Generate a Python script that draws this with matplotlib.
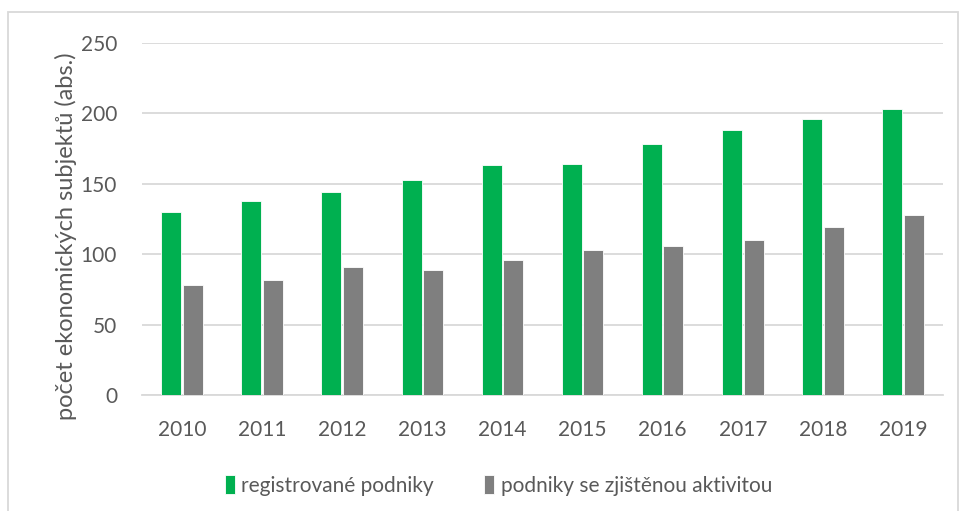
import matplotlib.pyplot as plt
import matplotlib.patches as mpatches
import numpy as np

plt.rcParams["font.family"] = ["Lato", "DejaVu Sans"]

years = ["2010", "2011", "2012", "2013", "2014", "2015", "2016", "2017", "2018", "2019"]
registrovane = [130, 138, 144, 153, 163, 164, 178, 188, 196, 203]
aktivni = [78, 82, 91, 89, 96, 103, 106, 110, 119, 128]

green = "#00B050"
grey = "#7F7F7F"
text_c = "#595959"
grid_c = "#D9D9D9"

fig = plt.figure(figsize=(9.6, 5.11), dpi=100)
ax = fig.add_axes([142 / 960, 1 - 395 / 511, 801 / 960, 352 / 511])

x = np.arange(len(years))
w = 0.25
ax.bar(x - 0.135, registrovane, w, color=green, edgecolor="white", linewidth=0.6,
       label="registrované podniky", zorder=3)
ax.bar(x + 0.135, aktivni, w, color=grey, edgecolor="white", linewidth=0.6,
       label="podniky se zjištěnou aktivitou", zorder=3)

ax.set_xlim(-0.5, len(years) - 0.5)
ax.set_ylim(0, 250)
ax.set_yticks(range(0, 251, 50))
ax.set_xticks(x)
ax.set_xticklabels(years)
ax.grid(axis="y", color=grid_c, linewidth=1.3, zorder=0)
for s in ["top", "right", "left"]:
    ax.spines[s].set_visible(False)
ax.spines["bottom"].set_color(grid_c)
ax.spines["bottom"].set_linewidth(1.3)
ax.tick_params(axis="both", length=0, labelsize=15, colors=text_c)
ax.tick_params(axis="y", pad=18)
ax.tick_params(axis="x", pad=18)
ax.set_ylabel("počet ekonomických subjektů (abs.)", fontsize=17, color=text_c)
ax.yaxis.set_label_coords(-0.081, 0.45)

ax.legend(loc="upper center", bbox_to_anchor=(0.445, -0.175), ncol=2, frameon=False,
          fontsize=15, labelcolor=text_c, handlelength=0.5, handleheight=1.0,
          handletextpad=0.3, columnspacing=2.4)

# chart border
fig.patches.append(mpatches.Rectangle((8 / 960, -0.01), 1 - 8 / 960 - 0.002, 1 - 12 / 511 + 0.01,
                                      transform=fig.transFigure, fill=False,
                                      edgecolor=grid_c, linewidth=1.3))

fig.savefig("out.png", dpi=100, facecolor="white")
